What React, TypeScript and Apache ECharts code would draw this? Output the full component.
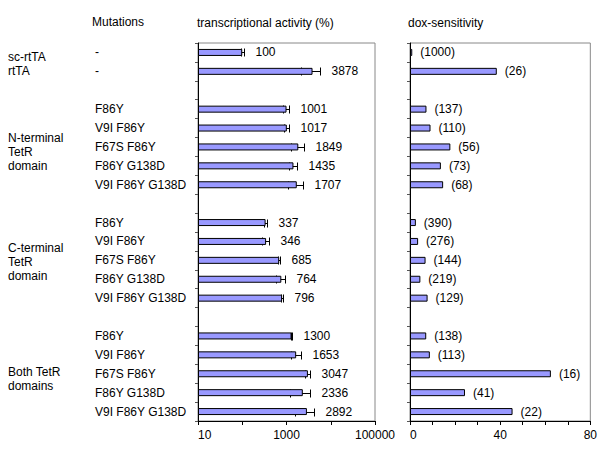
import { useEffect, useRef } from 'react';
import * as echarts from 'echarts';

const FONT = "'Liberation Sans', Arial, sans-serif";

const rowLabels = [
  '-', '-', '',
  'F86Y', 'V9I F86Y', 'F67S F86Y', 'F86Y G138D', 'V9I F86Y G138D', '',
  'F86Y', 'V9I F86Y', 'F67S F86Y', 'F86Y G138D', 'V9I F86Y G138D', '',
  'F86Y', 'V9I F86Y', 'F67S F86Y', 'F86Y G138D', 'V9I F86Y G138D',
];
const groupTexts = ['sc-rtTA\nrtTA', 'N-terminal\nTetR\ndomain', 'C-terminal\nTetR\ndomain', 'Both TetR\ndomains'];
const activity: (number | null)[] = [
  100, 3878, null,
  1001, 1017, 1849, 1435, 1707, null,
  337, 346, 685, 764, 796, null,
  1300, 1653, 3047, 2336, 2892,
];
const activityErr: (number | null)[] = [
  8, 1800, null,
  150, 150, 600, 300, 650, null,
  20, 65, 30, 170, 40, null,
  50, 420, 400, 1150, 1300,
];
const sensitivity: (number | null)[] = [
  1.0, 38.5, null,
  7.3, 9.1, 17.9, 13.7, 14.7, null,
  2.6, 3.6, 6.9, 4.6, 7.8, null,
  7.2, 8.8, 62.5, 24.4, 45.5,
];
const sensitivityLabels = [
  '(1000)', '(26)', '',
  '(137)', '(110)', '(56)', '(73)', '(68)', '',
  '(390)', '(276)', '(144)', '(219)', '(129)', '',
  '(138)', '(113)', '(16)', '(41)', '(22)',
];
const activityTicks = [10, 1000, 100000];
const sensitivityTicks = [0, 40, 80];

const BAR_COLOR = '#9999FF';

export default function App() {
  const ref = useRef<HTMLDivElement>(null);
  useEffect(() => {
    const chart = echarts.init(ref.current!, undefined, { renderer: 'svg' });
    const rowIdx = rowLabels.map((_, i) => String(i));
    const errData: number[][] = [];
    activity.forEach((v, i) => {
      if (v != null) errData.push([v, i, activityErr[i] as number]);
    });
    const option: any = {
      animation: false,
      backgroundColor: '#fff',
      textStyle: { fontFamily: FONT },
      grid: [
        { left: 198, top: 43, width: 177, height: 378, show: true, borderColor: '#888', borderWidth: 1 },
        { left: 410, top: 43, width: 181, height: 378, show: true, borderColor: '#888', borderWidth: 1 },
      ],
      xAxis: [
        {
          type: 'log', logBase: 10, min: 10, max: 100000, gridIndex: 0, startValue: 10,
          axisLine: { show: true, lineStyle: { color: '#000' } },
          axisTick: { show: true, length: 4, lineStyle: { color: '#000' } },
          splitLine: { show: false },
          minorTick: { show: false },
          axisLabel: {
            color: '#000', fontSize: 12, fontFamily: FONT, margin: 8, alignMinLabel: 'left',
            formatter: (v: number) => {
              const r = Math.round(v);
              return activityTicks.includes(r) ? String(r) : '';
            },
          },
        },
        {
          type: 'value', min: 0, max: 80, interval: 10, gridIndex: 1,
          axisLine: { show: true, lineStyle: { color: '#000' } },
          axisTick: { show: true, length: 4, lineStyle: { color: '#000' } },
          splitLine: { show: false },
          axisLabel: {
            color: '#000', fontSize: 12, fontFamily: FONT, margin: 8, alignMinLabel: 'left',
            formatter: (v: number) => (sensitivityTicks.includes(v) ? String(v) : ''),
          },
        },
      ],
      yAxis: [
        {
          type: 'category', data: rowIdx, inverse: true, gridIndex: 0,
          axisLine: { show: true, lineStyle: { color: '#000' } },
          axisTick: { show: true, length: 3, lineStyle: { color: '#555' } },
          axisLabel: {
            interval: 0, align: 'left', margin: 103, color: '#000', fontSize: 12, fontFamily: FONT,
            formatter: (v: string) => rowLabels[Number(v)],
          },
        },
        {
          type: 'category', data: rowIdx, inverse: true, gridIndex: 1,
          axisLine: { show: true, lineStyle: { color: '#000' } },
          axisTick: { show: true, length: 3, lineStyle: { color: '#555' } },
          axisLabel: { show: false },
        },
      ],
      series: [
        {
          type: 'bar', xAxisIndex: 0, yAxisIndex: 0, barWidth: 7, clip: true,
          data: activity.map((v) => (v == null ? '-' : v)),
          itemStyle: { color: BAR_COLOR, borderColor: '#000', borderWidth: 1 },
        },
        {
          type: 'custom', xAxisIndex: 0, yAxisIndex: 0,
          encode: { x: 0, y: 1 },
          data: errData,
          renderItem: (params: any, api: any) => {
            const v = api.value(0);
            const i = api.value(1);
            const e = api.value(2);
            const lo = api.coord([v - e, i]);
            const hi = api.coord([v + e, i]);
            const y = Math.round(lo[1]) + 0.5;
            const x1 = Math.round(lo[0]) + 0.5;
            const x2 = Math.round(hi[0]) + 0.5;
            const h = 4;
            const st = { stroke: '#000', lineWidth: 1 };
            return {
              type: 'group',
              children: [
                { type: 'line', shape: { x1, y1: y, x2, y2: y }, style: st },
                { type: 'line', shape: { x1, y1: y - h, x2: x1, y2: y + h }, style: st },
                { type: 'line', shape: { x1: x2, y1: y - h, x2, y2: y + h }, style: st },
                {
                  type: 'text', x: x2 + 11, y: lo[1],
                  style: {
                    text: String(activity[i]), fill: '#000', fontSize: 12, fontFamily: FONT,
                    align: 'left', verticalAlign: 'middle',
                  },
                },
              ],
            };
          },
        },
        {
          type: 'bar', xAxisIndex: 1, yAxisIndex: 1, barWidth: 7,
          data: sensitivity.map((v) => (v == null ? '-' : v)),
          itemStyle: { color: BAR_COLOR, borderColor: '#000', borderWidth: 1 },
          label: {
            show: true, position: 'right', distance: 8, color: '#000', fontSize: 12, fontFamily: FONT,
            formatter: (p: any) => sensitivityLabels[p.dataIndex],
          },
        },
      ],
      graphic: [
        { type: 'text', x: 92, y: 22, style: { text: 'Mutations', fill: '#000', fontSize: 12, fontFamily: FONT, verticalAlign: 'middle' } },
        { type: 'text', x: 197, y: 23, style: { text: 'transcriptional activity (%)', fill: '#000', fontSize: 12, fontFamily: FONT, verticalAlign: 'middle' } },
        { type: 'text', x: 408, y: 23, style: { text: 'dox-sensitivity', fill: '#000', fontSize: 12, fontFamily: FONT, verticalAlign: 'middle' } },
        { type: 'text', x: 8, y: 63.5, style: { text: groupTexts[0], fill: '#000', fontSize: 12, lineHeight: 14, fontFamily: FONT, verticalAlign: 'middle' } },
        { type: 'text', x: 8, y: 151.5, style: { text: groupTexts[1], fill: '#000', fontSize: 12, lineHeight: 14, fontFamily: FONT, verticalAlign: 'middle' } },
        { type: 'text', x: 8, y: 262, style: { text: groupTexts[2], fill: '#000', fontSize: 12, lineHeight: 14, fontFamily: FONT, verticalAlign: 'middle' } },
        { type: 'text', x: 8, y: 379, style: { text: groupTexts[3], fill: '#000', fontSize: 12, lineHeight: 14, fontFamily: FONT, verticalAlign: 'middle' } },
      ],
    };
    chart.setOption(option);
    return () => chart.dispose();
  }, []);
  return <div ref={ref} style={{ position: 'fixed', left: 0, top: 0, width: 600, height: 450, background: '#fff' }} />;
}
